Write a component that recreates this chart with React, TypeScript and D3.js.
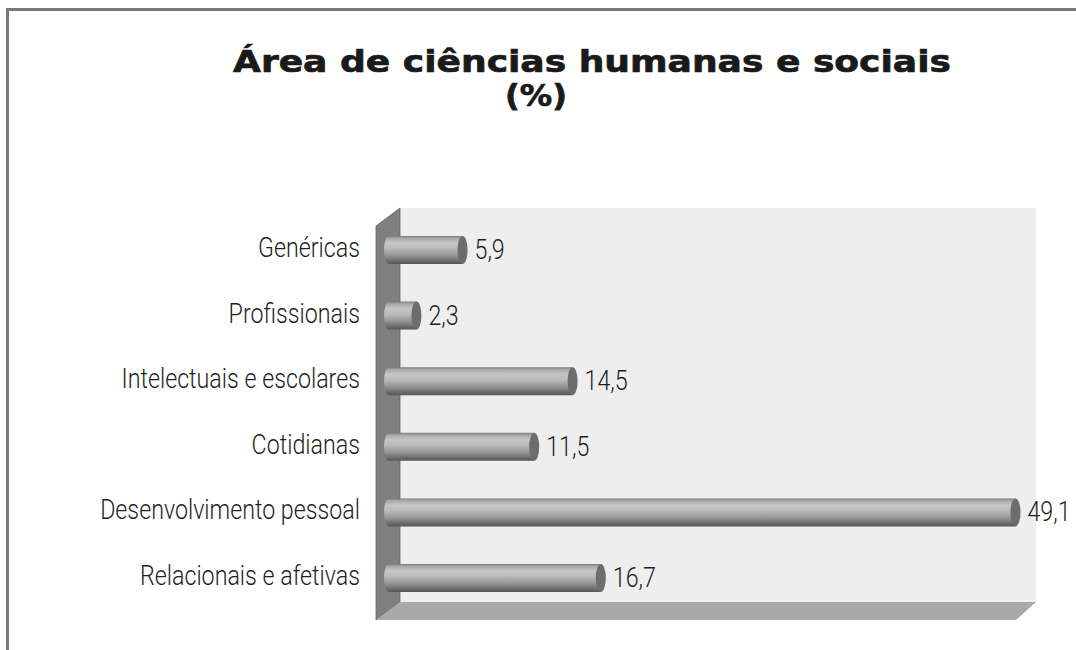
import React, { useEffect, useRef } from 'react';
import * as d3 from 'd3';

// data
const categories = [
  'Genéricas',
  'Profissionais',
  'Intelectuais e escolares',
  'Cotidianas',
  'Desenvolvimento pessoal',
  'Relacionais e afetivas',
];
const values = [5.9, 2.3, 14.5, 11.5, 49.1, 16.7];
const valueLabels = ['5,9', '2,3', '14,5', '11,5', '49,1', '16,7'];
const titleLines = ['Área de ciências humanas e sociais', '(%)'];

const W = 1076;
const H = 650;

export default function App() {
  const ref = useRef<SVGSVGElement>(null);

  useEffect(() => {
    if (!ref.current) return;
    const svg = d3.select(ref.current);
    svg.selectAll('*').remove();

    const light = "Roboto, 'Liberation Sans', sans-serif";
    const squeeze = 0.83; // the original face is a condensed light grotesk

    // frame
    svg.append('path')
      .attr('d', `M7.5,${H} L7.5,9.5 L${W},9.5`)
      .attr('fill', 'none')
      .attr('stroke', '#7a7a7a')
      .attr('stroke-width', 3);

    // 3d box: back wall, side wall, floor
    const wallL = 376, wallR = 400, top = 208, floorY = 602, backR = 1036, depth = 18;
    svg.append('rect')
      .attr('x', wallR).attr('y', top)
      .attr('width', backR - wallR).attr('height', floorY - top)
      .attr('fill', '#eeeeee');
    svg.append('polygon')
      .attr('points', `${wallL},${top + depth} ${wallR},${top} ${wallR},${floorY} ${wallL},${floorY + depth}`)
      .attr('fill', '#7f7f7f')
      .attr('stroke', '#666').attr('stroke-width', 0.8);
    svg.append('polygon')
      .attr('points', `${wallL},${floorY + depth} ${wallR},${floorY} ${backR},${floorY} ${backR - 20},${floorY + depth}`)
      .attr('fill', '#a9a9a9');

    const x = d3.scaleLinear().domain([0, 50]).range([387, 1027]);
    const y = d3.scalePoint<string>().domain(categories).range([250, 578]);
    const barH = 28;
    const x0 = 384;
    const rx = 5;

    const defs = svg.append('defs');
    const grad = defs.append('linearGradient')
      .attr('id', 'cyl').attr('x1', 0).attr('y1', 0).attr('x2', 0).attr('y2', 1);
    [
      [0, '#7a7a7a'], [0.08, '#a8a8a8'], [0.25, '#c6c6c6'], [0.45, '#b9b9b9'],
      [0.7, '#959595'], [0.88, '#6e6e6e'], [1, '#555555'],
    ].forEach(([o, c]) => grad.append('stop').attr('offset', o as number).attr('stop-color', c as string));

    const bars = svg.append('g').selectAll('g')
      .data(categories)
      .enter()
      .append('g');

    bars.append('path')
      .attr('d', (d, i) => {
        const cy = y(d) as number;
        const xe = x(values[i]);
        return `M${x0 + rx},${cy - barH / 2} L${xe},${cy - barH / 2} L${xe},${cy + barH / 2} L${x0 + rx},${cy + barH / 2} A${rx},${barH / 2} 0 0 1 ${x0 + rx},${cy - barH / 2} Z`;
      })
      .attr('fill', 'url(#cyl)');

    bars.append('ellipse')
      .attr('cx', (d, i) => x(values[i]))
      .attr('cy', d => y(d) as number)
      .attr('rx', rx)
      .attr('ry', barH / 2)
      .attr('fill', '#6d6d6d');

    bars.append('text')
      .attr('transform', (d, i) => `translate(${x(values[i]) + rx + 7},${(y(d) as number) + 9}) scale(${squeeze},1)`)
      .attr('font-family', light)
      .attr('font-weight', 300)
      .attr('font-size', 28)
      .attr('fill', '#1e1e1e')
      .text((d, i) => valueLabels[i]);

    // category labels
    svg.append('g').selectAll('text')
      .data(categories)
      .enter()
      .append('text')
      .attr('transform', d => `translate(360,${(y(d) as number) + 7}) scale(${squeeze},1)`)
      .attr('text-anchor', 'end')
      .attr('font-family', light)
      .attr('font-weight', 300)
      .attr('font-size', 28)
      .attr('fill', '#1e1e1e')
      .text(d => d);

    // title
    const title = svg.append('g')
      .attr('font-family', "'DejaVu Sans', sans-serif")
      .attr('font-weight', 700)
      .attr('font-size', 31)
      .attr('fill', '#1a1a1a')
      .attr('stroke', '#1a1a1a')
      .attr('stroke-width', 0.7)
      .attr('text-anchor', 'middle')
      .attr('lengthAdjust', 'spacingAndGlyphs');
    title.append('text')
      .attr('x', 592).attr('y', 72)
      .attr('textLength', 718)
      .attr('lengthAdjust', 'spacingAndGlyphs')
      .text(titleLines[0]);
    title.append('text')
      .attr('x', 536).attr('y', 106)
      .attr('textLength', 62)
      .attr('lengthAdjust', 'spacingAndGlyphs')
      .text(titleLines[1]);
  }, []);

  return (
    <svg ref={ref} width={W} height={H} style={{ position: 'absolute', left: 0, top: 0, background: '#fff' }} />
  );
}
